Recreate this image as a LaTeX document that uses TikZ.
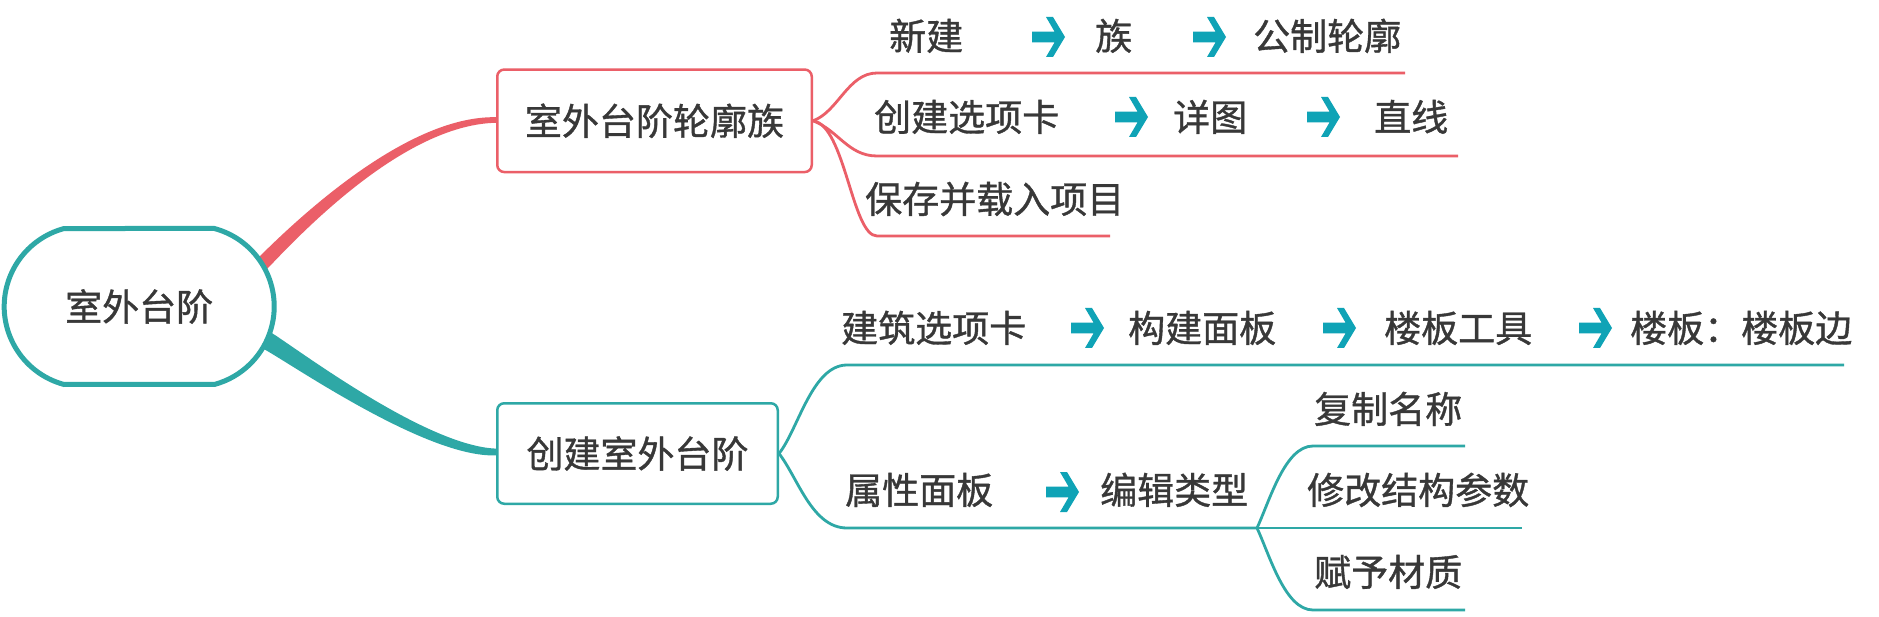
\documentclass[tikz,border=0pt]{standalone}
\usepackage{fontspec}
\setmainfont[FakeBold=1]{Noto Sans CJK SC}
\usetikzlibrary{shapes.misc}
\definecolor{redb}{HTML}{EB5F68}
\definecolor{tealb}{HTML}{2EA8A6}
\definecolor{arrc}{HTML}{0FA3B6}
\definecolor{txt}{HTML}{383838}
\begin{document}
\begin{tikzpicture}[x=1pt,y=-1pt,
  lbl/.style={anchor=base west, inner sep=0pt, text=txt, font=\fontsize{37}{44}\selectfont},
  boxtxt/.style={inner sep=0pt, text=txt, font=\fontsize{37}{44}\selectfont, fill=white},
  redl/.style={draw=redb, line width=2.8pt},
  teall/.style={draw=tealb, line width=2.8pt},
  arr/.pic={\fill[arrc] (0,-5.3) -- (22.6,-5.3) -- (14,-20) -- (21,-20) -- (33,0) -- (21,20) -- (14,20) -- (22.6,5.3) -- (0,5.3) -- cycle;}
]
\useasboundingbox[fill=white] (0,0) rectangle (1879,617);

% main thick branches (tapered)
\fill[redb] (250.5,265.8) -- (261,255.1) .. controls (305.7,210.8) and (410,115.5) .. (496,117.2) -- (496,122.8) .. controls (410,124.5) and (314.3,219.2) .. (271,264.9) -- (260.5,275.6) -- cycle;
\fill[tealb] (257.2,324.9) -- (270.3,332.1) .. controls (293.9,346.2) and (425,446) .. (496,448.6) -- (496,455.4) .. controls (425,458) and (286.1,360.2) .. (261.7,347.9) -- (248.6,340.7) -- cycle;

% nodes
\node[boxtxt, rounded rectangle, rounded rectangle arc length=150, draw=tealb, line width=5pt, minimum width=270pt, minimum height=156pt] (root) at (139.2,306.5) {室外台阶};
\node[boxtxt, draw=redb, line width=2.5pt, rounded corners=7pt, minimum width=314.5pt, minimum height=102.5pt] (b1) at (654.5,120.8) {室外台阶轮廓族};
\node[boxtxt, draw=tealb, line width=2.5pt, rounded corners=7pt, minimum width=280.5pt, minimum height=100.5pt] (b2) at (637.5,453.5) {创建室外台阶};

% red sub-branches
\draw[redl] (b1.east) .. controls (838,112) and (848,73) .. (877,73) -- (1405,73);
\draw[redl] (b1.east) .. controls (838,130) and (848,156) .. (877,156) -- (1458,156);
\draw[redl] (b1.east) .. controls (845,125) and (852,236) .. (877,236) -- (1110,236);

% teal sub-branches
\draw[teall] (b2.east) .. controls (798,430) and (812,365) .. (847,365) -- (1844,365);
\coordinate (j4) at (1257,528);
\draw[teall] (b2.east) .. controls (798,478) and (812,528) .. (847,528) -- (j4);
\draw[teall] (j4) .. controls (1270,500) and (1285,446) .. (1313,446) -- (1465,446);
\draw[teall] (j4) -- (1522,528);
\draw[teall] (j4) .. controls (1270,556) and (1285,610) .. (1313,610) -- (1465,610);

% labels
\node[lbl] (t11) at (889,50) {新建};
\node[lbl] (t12) at (1095,50) {族};
\node[lbl] (t13) at (1253,50) {公制轮廓};
\node[lbl] (t21) at (874,131) {创建选项卡};
\node[lbl] (t22) at (1173,131) {详图};
\node[lbl] (t23) at (1374,131) {直线};
\node[lbl] (t31) at (865,213) {保存并载入项目};
\node[lbl] (a1) at (841,342) {建筑选项卡};
\node[lbl] (a2) at (1128,342) {构建面板};
\node[lbl] (a3) at (1384,342) {楼板工具};
\node[lbl] (a4) at (1630,342) {楼板：楼板边};
\node[lbl] (b1t) at (845,504) {属性面板};
\node[lbl] (b2t) at (1100,504) {编辑类型};
\node[lbl] (c1) at (1314,423) {复制名称};
\node[lbl] (c2) at (1307,504) {修改结构参数};
\node[lbl] (c3) at (1314,586) {赋予材质};

% arrows
\pic at (1032,37) {arr};
\pic at (1193,37) {arr};
\pic at (1115,117) {arr};
\pic at (1307,117) {arr};
\pic at (1071,328) {arr};
\pic at (1323,328) {arr};
\pic at (1579,328) {arr};
\pic at (1046,492) {arr};
\end{tikzpicture}
\end{document}
